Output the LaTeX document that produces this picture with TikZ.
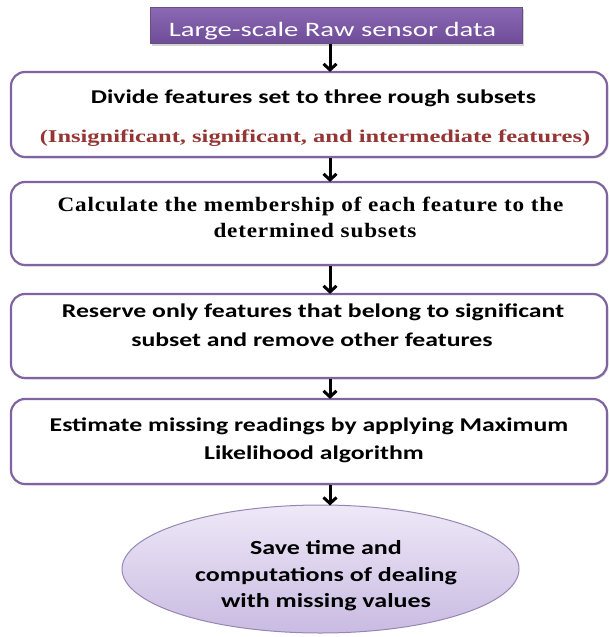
\documentclass[tikz,border=0pt]{standalone}
\usepackage{fontspec}
\setmainfont{Carlito}
\newfontfamily\sansw[FakeStretch=1.32]{Carlito}
\newfontfamily\sanse[FakeStretch=1.30]{Carlito}
\newfontfamily\sanst[FakeStretch=1.40]{Carlito}
\newfontfamily\serifw[FakeStretch=1.13,LetterSpace=4]{Liberation Serif}
\newfontfamily\serifr[FakeStretch=1.36]{Liberation Serif}
\usetikzlibrary{arrows.meta,shapes.geometric,shadows}
\definecolor{boxpurple}{HTML}{8064A2}
\definecolor{titletop}{HTML}{8C69B4}
\definecolor{titlebot}{HTML}{6E4C98}
\definecolor{elltop}{HTML}{EEE8F7}
\definecolor{ellbot}{HTML}{C9BBE2}
\definecolor{ellline}{HTML}{9686B4}
\definecolor{darkred}{HTML}{943634}
\tikzset{
  stepbox/.style={draw=boxpurple, line width=2.2pt, rounded corners=14pt, fill=white,
    minimum width=596pt, inner sep=0pt,
    drop shadow={shadow xshift=1.5pt, shadow yshift=-1.5pt, opacity=0.25, fill=gray}},
  titlebox/.style={draw=boxpurple!80!black, line width=0.6pt, top color=titletop, bottom color=titlebot,
    minimum width=372pt, minimum height=36.5pt, inner sep=0pt,
    drop shadow={shadow xshift=2pt, shadow yshift=-2pt, opacity=0.35, fill=gray}},
  endell/.style={ellipse, draw=ellline, line width=1pt, top color=elltop, bottom color=ellbot,
    minimum width=397pt, minimum height=128pt, inner sep=0pt},
  arr/.style={line width=3pt, -{Straight Barb[length=6pt,width=13pt,line width=3pt]}},
  ln/.style={anchor=base, inner sep=0pt},
  titletext/.style={ln, text=white, font=\sanst\fontsize{20.5}{24}\selectfont},
  sansb/.style={ln, font=\sansw\bfseries\fontsize{19.5}{24}\selectfont},
  ellb/.style={ln, font=\sanse\bfseries\fontsize{20}{24}\selectfont},
  serb/.style={ln, font=\serifw\bfseries\fontsize{20.5}{24}\selectfont},
  redb/.style={ln, text=darkred, font=\serifr\bfseries\fontsize{18}{24}\selectfont}
}
\begin{document}
\begin{tikzpicture}[x=1pt,y=-1pt]
\useasboundingbox (0,0) rectangle (609,637);
% shapes
\node[titlebox] (title) at (336,25.25) {};
\node[stepbox, minimum height=85pt] (b1) at (309,114.5) {};
\node[stepbox, minimum height=83pt] (b2) at (309,223.5) {};
\node[stepbox, minimum height=84pt] (b3) at (309,336) {};
\node[stepbox, minimum height=85pt] (b4) at (309,441.5) {};
\node[endell] (e) at (320.5,569) {};
% texts
\node[titletext] (tt) at (332.5,36.5) {Large-scale Raw sensor data};
\node[sansb] (t1a) at (313.5,103) {Divide features set to three rough subsets};
\node[redb] (t1b) at (315,142) {(Insignificant, significant, and intermediate features)};
\node[serb] (t2a) at (310.5,211) {Calculate the membership of each feature to the};
\node[serb] (t2b) at (315,237) {determined subsets};
\node[sansb] (t3a) at (313,317) {Reserve only features that belong to significant};
\node[sansb] (t3b) at (312,346) {subset and remove other features};
\node[sansb] (t4a) at (309,431) {Estimate missing readings by applying Maximum};
\node[sansb] (t4b) at (314,459) {Likelihood algorithm};
\node[ellb] (e1) at (326,554) {Save time and};
\node[ellb] (e2) at (326,581) {computations of dealing};
\node[ellb] (e3) at (326,607) {with missing values};
% connectors
\coordinate (ax) at (330,0);
\draw[arr] (title.south -| ax) -- ([yshift=-1pt]b1.north -| ax);
\draw[arr] (b1.south -| ax) -- ([yshift=-1pt]b2.north -| ax);
\draw[arr] (b2.south -| ax) -- ([yshift=-1pt]b3.north -| ax);
\draw[arr] (b3.south -| ax) -- ([yshift=-1pt]b4.north -| ax);
\draw[arr] (b4.south -| ax) -- ([yshift=-1pt]e.north -| ax);
\end{tikzpicture}
\end{document}
